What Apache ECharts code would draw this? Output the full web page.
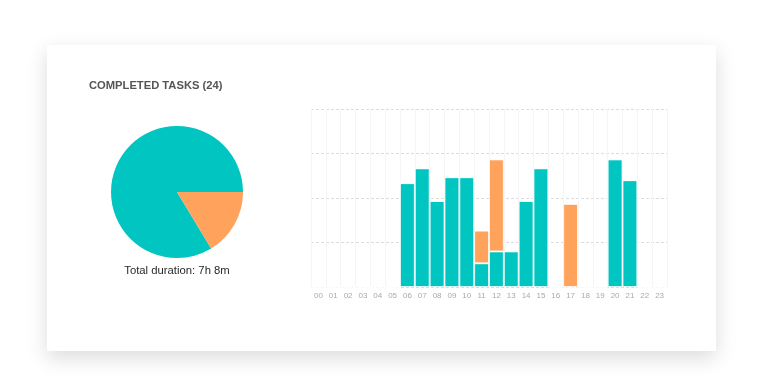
<!DOCTYPE html>
<html>
<head>
<meta charset="utf-8">
<script src="https://cdn.jsdelivr.net/npm/echarts@6/dist/echarts.min.js"></script>
<style>
    html, body {margin: 0; padding: 0; background: #fff;}
    #card {
        position: absolute; left: 47px; top: 45px; width: 669px; height: 306px;
        background: #fff; box-shadow: 0 7px 20px rgba(0, 0, 0, 0.14);
    }
    #chart {position: absolute; left: 0; top: 0; width: 768px; height: 377px;}
</style>
</head>
<body>
<div id="card"></div>
<div id="chart"></div>
<script>
// hours of the day
var hours = ['00', '01', '02', '03', '04', '05', '06', '07', '08', '09', '10', '11',
    '12', '13', '14', '15', '16', '17', '18', '19', '20', '21', '22', '23'];
// minutes worked per hour, by task type
var tealMinutes = [0, 0, 0, 0, 0, 0, 35, 40, 29, 37, 37, 8, 12, 12, 29, 40, 0, 0, 0, 0, 43, 36, 0, 0];
var orangeMinutes = [0, 0, 0, 0, 0, 0, 0, 0, 0, 0, 0, 11, 31, 0, 0, 0, 0, 28, 0, 0, 0, 0, 0, 0];
var taskCount = 24;
var totalLabel = 'Total duration: 7h 8m';

var teal = '#00c5c1';
var orange = '#ffa25c';

function sum(arr) {
    return arr.reduce(function (a, b) { return a + b; }, 0);
}

var option = {
    backgroundColor: 'transparent',
    animation: false,
    textStyle: {fontFamily: 'Liberation Sans, Arial, sans-serif'},
    title: [{
            text: 'COMPLETED TASKS (' + taskCount + ')',
            left: 89,
            top: 80,
            padding: 0,
            textStyle: {fontSize: 11.2, fontWeight: 'bold', color: '#555'}
        }, {
            text: totalLabel,
            left: 177,
            top: 265,
            padding: 0,
            textAlign: 'center',
            textStyle: {fontSize: 11.3, fontWeight: 'normal', color: '#2a2a2a'}
        }],
    grid: {left: 311, right: 101, top: 109, bottom: 90},
    xAxis: {
        type: 'category',
        data: hours,
        axisLine: {show: false},
        axisTick: {show: false},
        axisLabel: {color: '#aaa', fontSize: 8, margin: 5},
        splitLine: {show: true, lineStyle: {color: '#f5f5f5', width: 1}}
    },
    yAxis: {
        type: 'value',
        min: 0,
        max: 60,
        interval: 15,
        axisLine: {show: false},
        axisTick: {show: false},
        axisLabel: {show: false},
        splitLine: {lineStyle: {color: '#dcdcdc', type: [3, 2]}}
    },
    series: [
        {
            type: 'bar',
            stack: 'time',
            data: tealMinutes,
            barCategoryGap: 0,
            itemStyle: {color: teal, borderColor: 'rgba(255,255,255,0.7)', borderWidth: 1}
        },
        {
            type: 'bar',
            stack: 'time',
            data: orangeMinutes,
            barCategoryGap: 0,
            itemStyle: {color: orange, borderColor: 'rgba(255,255,255,0.7)', borderWidth: 1}
        },
        {
            type: 'pie',
            center: [177, 192],
            radius: 66,
            clockwise: false,
            startAngle: 0,
            label: {show: false},
            labelLine: {show: false},
            data: [
                {value: sum(tealMinutes), itemStyle: {color: teal}},
                {value: sum(orangeMinutes), itemStyle: {color: orange}}
            ]
        }
    ]
};

var chart = echarts.init(document.getElementById('chart'));
chart.setOption(option);
</script>
</body>
</html>
